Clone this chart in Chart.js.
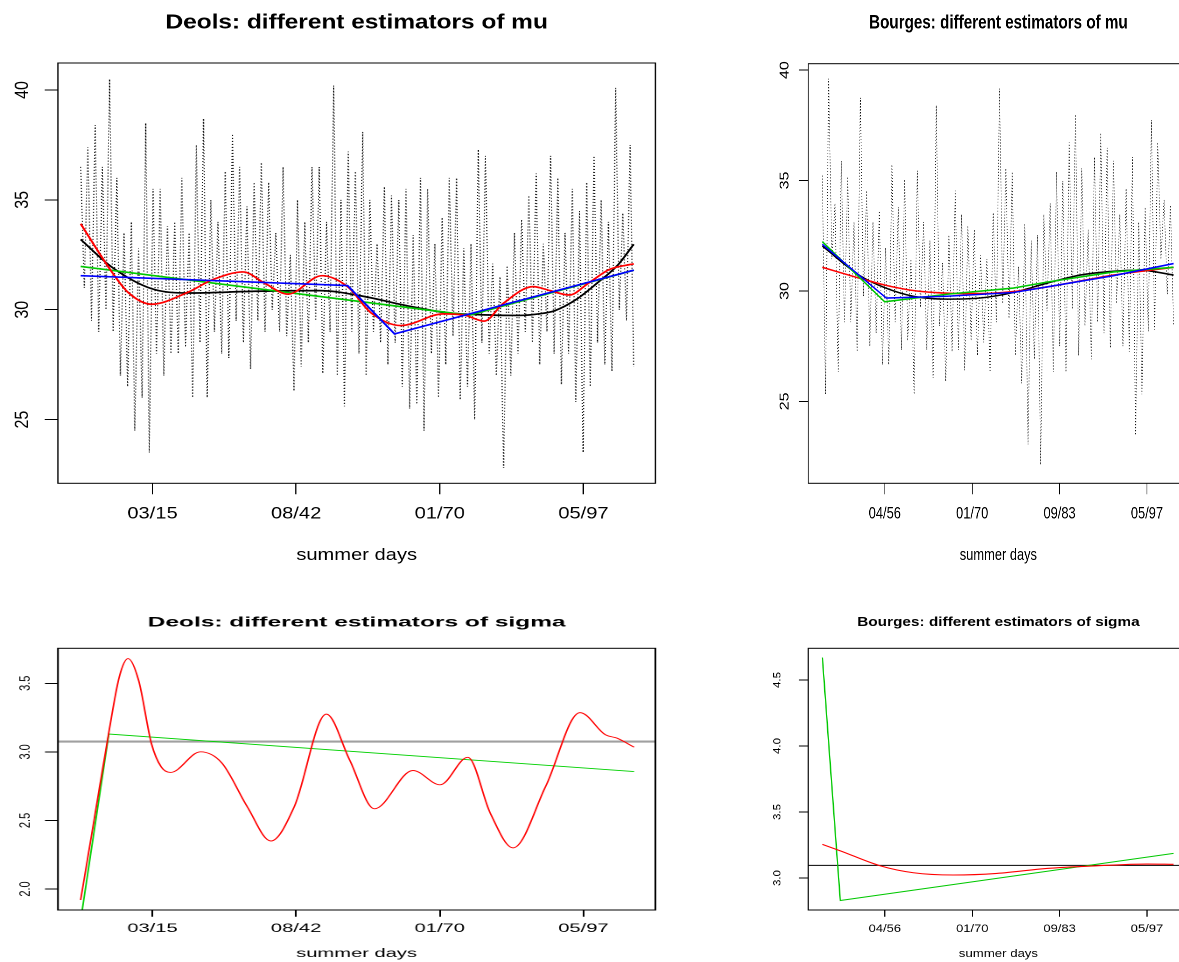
<!DOCTYPE html>
<html>
<head>
<meta charset="utf-8">
<script src="https://cdn.jsdelivr.net/npm/chart.js@4.4.1/dist/chart.umd.min.js"></script>
<style>
  html, body { margin: 0; padding: 0; background: #fff; overflow: hidden; width: 1179px; height: 962px; }
  canvas { position: absolute; transform-origin: 0 0; }
</style>
</head>
<body>
<canvas id="deolsMu"></canvas>
<canvas id="bourgesMu"></canvas>
<canvas id="deolsSigma"></canvas>
<canvas id="bourgesSigma"></canvas>
<script>
// x axis: summer day index
const deolsTickDays = [500, 1500, 2500, 3500];
const deolsTickLabels = ['03/15', '08/42', '01/70', '05/97'];
const bourgesTickDays = [715, 1715, 2715, 3715];
const bourgesTickLabels = ['04/56', '01/70', '09/83', '05/97'];
const deolsLastDay = 3850;
const bourgesLastDay = 4020;

const muTicks = [25, 30, 35, 40];
const muTickLabels = ['25', '30', '35', '40'];
const deolsSigmaTicks = [2, 2.5, 3, 3.5];
const deolsSigmaTickLabels = ['2.0', '2.5', '3.0', '3.5'];
const bourgesSigmaTicks = [3, 3.5, 4, 4.5];
const bourgesSigmaTickLabels = ['3.0', '3.5', '4.0', '4.5'];

const deolsObs = [
  36.5, 31.0, 37.4, 29.5, 38.4, 29.0, 36.5, 30.0, 40.5, 29.0, 36.0, 27.0, 33.5, 26.5, 34.0, 24.5, 32.8, 26.0, 38.5, 23.5,
  35.5, 28.0, 35.5, 27.0, 33.8, 28.0, 34.0, 28.0, 36.0, 28.3, 33.5, 26.0, 37.5, 28.5, 38.7, 26.0, 35.0, 29.0, 34.0, 28.0,
  36.3, 27.8, 38.0, 29.5, 36.5, 28.5, 34.7, 27.3, 35.8, 29.5, 36.7, 29.0, 35.8, 30.0, 33.5, 29.0, 36.5, 28.8, 32.5, 26.3,
  35.0, 27.4, 34.0, 28.5, 36.5, 29.5, 36.5, 27.1, 34.0, 29.0, 40.2, 27.0, 35.0, 25.6, 37.2, 29.0, 36.3, 28.0, 38.1, 27.0,
  35.0, 29.0, 33.0, 28.5, 35.6, 27.5, 35.2, 28.5, 35.0, 26.5, 35.5, 25.5, 33.4, 25.7, 36.0, 24.5, 35.5, 28.0, 33.0, 26.0,
  34.2, 27.5, 36.0, 28.8, 36.0, 25.9, 32.8, 26.5, 33.0, 25.0, 37.3, 28.5, 37.0, 28.0, 32.1, 27.0, 31.5, 22.8, 32.0, 27.0,
  33.5, 28.0, 34.1, 29.0, 35.2, 28.5, 36.2, 27.5, 33.0, 29.0, 37.0, 28.0, 36.0, 26.6, 33.5, 28.0, 35.5, 25.8, 34.5, 23.5,
  35.8, 26.5, 37.0, 28.5, 35.0, 27.5, 34.0, 27.2, 40.1, 30.0, 34.4, 29.5, 37.5, 27.4
];
const bourgesObs = [
  35.22, 25.32, 39.61, 31.44, 33.96, 26.33, 35.89, 28.59, 35.17, 28.59, 33.12, 27.25, 38.74, 29.76, 34.54, 27.50, 33.12, 28.09, 33.62, 26.66,
  31.95, 26.66, 35.72, 28.59, 33.79, 27.33, 35.05, 27.75, 31.44, 25.32, 35.44, 29.26, 33.12, 27.33, 32.28, 26.07, 38.40, 28.42, 31.27, 25.91,
  32.53, 27.25, 34.54, 27.33, 33.46, 26.41, 32.95, 27.75, 32.78, 27.08, 31.61, 27.67, 31.44, 26.33, 33.54, 28.59, 39.16, 29.43, 35.55, 28.76,
  35.39, 27.08, 31.10, 25.82, 33.04, 23.05, 32.28, 26.91, 32.53, 22.13, 33.46, 29.09, 33.96, 26.33, 35.39, 27.50, 34.97, 26.33, 36.73, 29.18,
  37.99, 27.08, 35.55, 28.42, 32.78, 26.91, 36.06, 28.59, 37.15, 28.09, 36.48, 27.42, 35.89, 29.43, 33.46, 27.50, 34.63, 27.25, 36.06, 23.47,
  33.12, 25.32, 33.79, 28.17, 37.73, 28.25, 36.73, 31.44, 34.13, 29.85, 33.88, 28.42
];

// estimators of mu, [day, value]
const deolsMuRed = [[0, 33.91], [217, 31.72], [330, 30.79], [493, 30.25], [745, 30.79], [923, 31.38], [1131, 31.72],
  [1280, 31.21], [1443, 30.71], [1680, 31.55], [1858, 31.05], [2021, 29.86], [2229, 29.28], [2526, 29.81], [2674, 29.75],
  [2808, 29.48], [2942, 30.29], [3150, 31.05], [3268, 30.87], [3402, 30.67], [3535, 31.21], [3684, 31.84], [3850, 32.09]];
const deolsMuBlack = [[0, 33.2], [217, 31.94], [493, 30.96], [745, 30.76], [1220, 30.84], [1665, 30.87], [1961, 30.62],
  [2258, 30.2], [2555, 29.86], [2850, 29.76], [3050, 29.74], [3200, 29.82], [3298, 29.95], [3446, 30.45], [3595, 31.21],
  [3743, 32.06], [3850, 32.98]];
const deolsMuGreen = [[0, 31.97], [2705, 29.75], [3850, 31.8]];
const deolsMuBlue = [[0, 31.55], [1858, 31.1], [2185, 28.9], [3850, 31.8]];

const bourgesMuRed = [[0, 31.07], [431, 30.57], [713, 30.27], [1041, 30.02], [1424, 29.9], [1805, 29.88], [2187, 29.97],
  [2569, 30.18], [2951, 30.45], [3332, 30.72], [3715, 30.92], [4020, 31.07]];
const bourgesMuBlack = [[0, 32.03], [431, 30.69], [713, 30.15], [1041, 29.76], [1424, 29.63], [1805, 29.68], [2187, 29.93],
  [2569, 30.35], [2951, 30.72], [3332, 30.89], [3638, 30.94], [4020, 30.72]];
const bourgesMuGreen = [[0, 32.23], [713, 29.51], [1424, 29.85], [2187, 30.13], [2569, 30.4], [3332, 30.86], [4020, 31.07]];
const bourgesMuBlue = [[0, 32.11], [732, 29.68], [1424, 29.76], [2187, 29.93], [2569, 30.18], [3332, 30.69], [4020, 31.24]];

// estimators of sigma
const deolsSigmaRed = [[0, 1.92], [98, 2.53], [196, 3.14], [270, 3.55], [330, 3.68], [404, 3.52], [493, 3.06], [561, 2.89],
  [626, 2.85], [834, 3.0], [982, 2.92], [1160, 2.6], [1324, 2.35], [1487, 2.6], [1710, 3.275], [1873, 2.94], [2045, 2.585],
  [2313, 2.864], [2502, 2.76], [2695, 2.96], [2853, 2.55], [3010, 2.30], [3238, 2.75], [3476, 3.286], [3654, 3.124],
  [3734, 3.10], [3853, 3.034]];
const deolsSigmaGreen = [[0, 1.77], [196, 3.13], [3853, 2.856]];
const deolsSigmaConst = 3.075;

const bourgesSigmaRed = [[0, 3.255], [202, 3.207], [660, 3.093], [1042, 3.04], [1500, 3.023], [1997, 3.035], [2570, 3.073],
  [3142, 3.093], [3715, 3.106], [4020, 3.104]];
const bourgesSigmaGreen = [[0, 4.67], [205, 2.83], [4020, 3.187]];
const bourgesSigmaConst = 3.096;

const FONT = '"Liberation Sans", Arial, Helvetica, sans-serif';

function pairs(list) {
  return list.map(([x, y]) => ({ x, y }));
}
function trace(values, lastDay) {
  return values.map((v, i) => ({ x: i * lastDay / (values.length - 1), y: v }));
}
function curve(list, color, width, smooth) {
  return {
    data: pairs(list), borderColor: color, borderWidth: width, pointRadius: 0,
    cubicInterpolationMode: smooth ? 'monotone' : 'default', tension: 0
  };
}
function hline(value, xMin, xMax, color, width) {
  return { data: [{ x: xMin, y: value }, { x: xMax, y: value }], borderColor: color, borderWidth: width, pointRadius: 0 };
}

const panelFrame = {
  id: 'panelFrame',
  afterDraw(chart, args, opts) {
    const { ctx, chartArea: a } = chart;
    const y = chart.scales.y;
    ctx.save();
    ctx.strokeStyle = '#000';
    ctx.lineWidth = 1;
    ctx.strokeRect(a.left, a.top, a.right - a.left, a.bottom - a.top);
    ctx.fillStyle = '#000';
    ctx.textAlign = 'center';
    ctx.textBaseline = 'middle';
    ctx.font = `bold ${opts.titleSize}px ${FONT}`;
    ctx.fillText(opts.title, (a.left + a.right) / 2, opts.titleY);
    ctx.font = `${opts.labelSize}px ${FONT}`;
    y.ticks.forEach((t, i) => {
      ctx.save();
      ctx.translate(opts.labelX, y.getPixelForValue(t.value));
      ctx.scale(opts.labelSquash, 1);
      ctx.rotate(-Math.PI / 2);
      ctx.fillText(opts.labels[i], 0, 0);
      ctx.restore();
    });
    ctx.restore();
  }
};

function drawPanel(id, p) {
  const canvas = document.getElementById(id);
  canvas.width = p.width;
  canvas.height = p.height;
  canvas.style.width = p.width + 'px';
  canvas.style.height = p.height + 'px';
  canvas.style.left = p.left + 'px';
  canvas.style.top = p.top + 'px';
  canvas.style.transform = `scaleX(${p.stretch})`;

  const tickLine = p.xTickSize * 1.2;
  const titleLine = p.axisTitleSize * 1.2;

  new Chart(canvas, {
    type: 'line',
    data: { datasets: p.datasets },
    options: {
      responsive: false,
      animation: false,
      devicePixelRatio: 2,
      events: [],
      layout: { padding: { left: 0, top: p.area.top, right: p.width - p.area.right, bottom: 0 } },
      plugins: {
        legend: { display: false },
        tooltip: { enabled: false },
        panelFrame: {
          title: p.title, titleY: p.titleY, titleSize: p.titleSize,
          labelX: p.yLabelX, labelSize: p.yLabelSize, labelSquash: p.yLabelSquash, labels: p.yLabels
        }
      },
      scales: {
        x: {
          type: 'linear', min: p.xMin, max: p.xMax,
          border: { display: false },
          grid: { drawOnChartArea: false, drawTicks: true, tickLength: p.xTickLen, color: '#000', lineWidth: 1 },
          ticks: {
            color: '#000', font: { family: FONT, size: p.xTickSize, lineHeight: 1.2 },
            padding: p.xLabelY - p.area.bottom - p.xTickLen - tickLine / 2,
            autoSkip: false, maxRotation: 0,
            callback: (v, i) => p.xTickLabels[i]
          },
          title: {
            display: true, text: 'summer days', color: '#000',
            font: { family: FONT, size: p.axisTitleSize, lineHeight: 1.2 },
            padding: { top: 0, bottom: p.height - p.axisTitleY - titleLine / 2 }
          },
          afterBuildTicks: (s) => { s.ticks = p.xTicks.map((v) => ({ value: v })); },
          afterFit: (s) => { s.height = p.height - p.area.bottom; }
        },
        y: {
          type: 'linear', min: p.yMin, max: p.yMax,
          border: { display: false },
          grid: { drawOnChartArea: false, drawTicks: true, tickLength: p.yTickLen, color: '#000', lineWidth: 1 },
          ticks: { display: false },
          afterBuildTicks: (s) => { s.ticks = p.yTicks.map((v) => ({ value: v })); },
          afterFit: (s) => { s.width = p.area.left; }
        }
      }
    },
    plugins: [panelFrame]
  });
}

const obsStyle = { borderColor: '#111', borderWidth: 1, borderDash: [1, 2], pointRadius: 0, tension: 0 };

drawPanel('deolsMu', {
  left: 0, top: 0, stretch: 1.22, width: 580, height: 580,
  area: { left: 47.5, right: 537.2, top: 63, bottom: 483.3 },
  xMin: -158, xMax: 4001, xTicks: deolsTickDays, xTickLabels: deolsTickLabels,
  yMin: 22.10, yMax: 41.23, yTicks: muTicks, yLabels: muTickLabels,
  title: 'Deols: different estimators of mu', titleY: 23, titleSize: 20,
  yLabelX: 18.4, yLabelSize: 16, yLabelSquash: 1, yTickLen: 10.8,
  xTickLen: 11, xLabelY: 514, xTickSize: 16.5, axisTitleY: 555.6, axisTitleSize: 16.5,
  datasets: [
    curve(deolsMuBlue, '#0000ff', 1.7, false),
    curve(deolsMuRed, '#ff0000', 1.7, true),
    curve(deolsMuGreen, '#00c800', 1.7, false),
    curve(deolsMuBlack, '#000000', 1.7, true),
    Object.assign({ data: trace(deolsObs, deolsLastDay) }, obsStyle)
  ]
});

drawPanel('bourgesMu', {
  left: 700, top: 0, stretch: 0.78, width: 650, height: 580,
  area: { left: 138.8, right: 626.3, top: 63.7, bottom: 483.3 },
  xMin: -161, xMax: 4191, xTicks: bourgesTickDays, xTickLabels: bourgesTickLabels,
  yMin: 21.29, yMax: 40.29, yTicks: muTicks, yLabels: muTickLabels,
  title: 'Bourges: different estimators of mu', titleY: 23, titleSize: 19.5,
  yLabelX: 109, yLabelSize: 16, yLabelSquash: 1.05, yTickLen: 12,
  xTickLen: 11, xLabelY: 514, xTickSize: 16.5, axisTitleY: 555.6, axisTitleSize: 16.5,
  datasets: [
    curve(bourgesMuBlue, '#0000ff', 1.6, false),
    curve(bourgesMuGreen, '#00c800', 1.6, false),
    curve(bourgesMuRed, '#ff0000', 1.6, true),
    curve(bourgesMuBlack, '#000000', 1.6, true),
    Object.assign({ data: trace(bourgesObs, bourgesLastDay) }, obsStyle)
  ]
});

drawPanel('deolsSigma', {
  left: 0, top: 600, stretch: 1.75, width: 400, height: 362,
  area: { left: 33.1, right: 374.5, top: 48.3, bottom: 310 },
  xMin: -158, xMax: 4001, xTicks: deolsTickDays, xTickLabels: deolsTickLabels,
  yMin: 1.847, yMax: 3.755, yTicks: deolsSigmaTicks, yLabels: deolsSigmaTickLabels,
  title: 'Deols: different estimators of sigma', titleY: 22.7, titleSize: 14,
  yLabelX: 14.9, yLabelSize: 11, yLabelSquash: 0.72, yTickLen: 7.4,
  xTickLen: 6.7, xLabelY: 329, xTickSize: 11.5, axisTitleY: 354, axisTitleSize: 11.5,
  datasets: [
    curve(deolsSigmaRed, '#ff0000', 0.9, true),
    curve(deolsSigmaGreen, '#00d000', 0.9, false),
    hline(deolsSigmaConst, -158, 4001, '#a0a0a0', 2.2)
  ]
});

drawPanel('bourgesSigma', {
  left: 700, top: 600, stretch: 1.2, width: 420, height: 362,
  area: { left: 90.25, right: 407.1, top: 48.3, bottom: 310 },
  xMin: -161, xMax: 4191, xTicks: bourgesTickDays, xTickLabels: bourgesTickLabels,
  yMin: 2.758, yMax: 4.74, yTicks: bourgesSigmaTicks, yLabels: bourgesSigmaTickLabels,
  title: 'Bourges: different estimators of sigma', titleY: 22.7, titleSize: 12.8,
  yLabelX: 64.7, yLabelSize: 11.5, yLabelSquash: 0.72, yTickLen: 7.8,
  xTickLen: 6.7, xLabelY: 329, xTickSize: 10.8, axisTitleY: 354, axisTitleSize: 11,
  datasets: [
    curve(bourgesSigmaRed, '#ff0000', 1.1, true),
    curve(bourgesSigmaGreen, '#00c800', 1.1, false),
    hline(bourgesSigmaConst, -161, 4191, '#000000', 1.1)
  ]
});
</script>
</body>
</html>
